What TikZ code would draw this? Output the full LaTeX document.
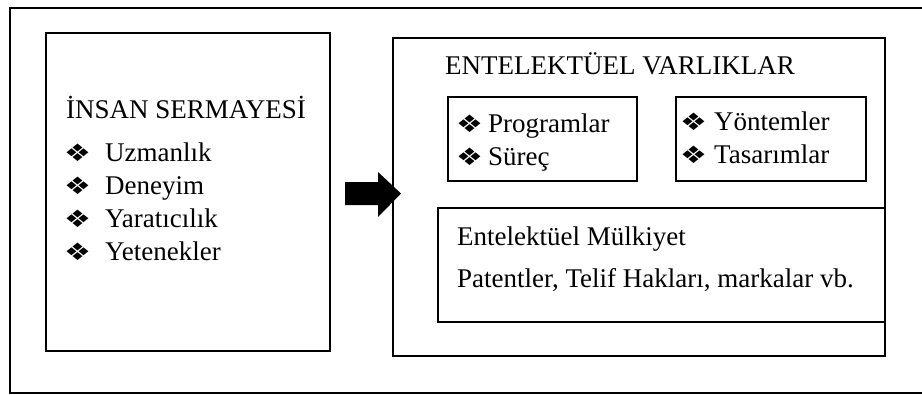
\documentclass[tikz,border=0pt]{standalone}
\usepackage{fontspec}
\setmainfont{Liberation Serif}
\newfontfamily\djv{DejaVu Sans}
\newcommand{\dia}{\scalebox{1.25}[1.0]{\djv\fontsize{24}{24}\selectfont ❖}}
\begin{document}
\begin{tikzpicture}[x=1pt,y=-1pt,
  box/.style={draw=black, line width=2pt, anchor=north west, inner sep=0pt},
  txt/.style={anchor=base west, inner sep=0pt, font=\fontsize{27}{32}\selectfont},
  bul/.style={anchor=base west, inner sep=0pt}]
\useasboundingbox (0,0) rectangle (922,394);
\fill[white] (0,0) rectangle (922,394);
\node[box, minimum width=916pt, minimum height=385pt] (outer) at (9,7) {};
\node[box, minimum width=284pt, minimum height=318pt] (hc) at (45,32) {};
\node[box, minimum width=492pt, minimum height=318pt] (ia) at (392,37) {};
\node[box, minimum width=189pt, minimum height=84pt] (pr) at (447,96) {};
\node[box, minimum width=190pt, minimum height=84pt] (yo) at (675,96) {};
\node[box, minimum width=447pt, minimum height=114pt] (ip) at (437,207) {};
% arrow
\fill[black] (345,182) -- (378,182) -- (378,172) -- (401,193.5) -- (378,217) -- (378,205) -- (345,205) -- cycle;
% left texts
\node[txt] (t1) at (66,118) {İNSAN SERMAYESİ};
\foreach \y/\t [count=\i] in {161/Uzmanlık,194/Deneyim,227/Yaratıcılık,260/Yetenekler}{
  \node[bul] (b\i) at (64,\y) {\dia};
  \node[txt] (l\i) at (105,\y) {\t};
}
\node[txt] (t2) at (445,74) {ENTELEKTÜEL VARLIKLAR};
\node[bul] (pb1) at (456,132) {\dia};
\node[txt] (p1) at (488,132) {Programlar};
\node[bul] (pb2) at (456,165) {\dia};
\node[txt] (p2) at (488,165) {Süreç};
\node[bul] (yb1) at (680,130) {\dia};
\node[txt] (y1) at (714,130) {Yöntemler};
\node[bul] (yb2) at (680,163) {\dia};
\node[txt] (y2) at (714,163) {Tasarımlar};
\node[txt] (m1) at (457,245) {Entelektüel Mülkiyet};
\node[txt] (m2) at (457,287) {Patentler, Telif Hakları, markalar vb.};
\end{tikzpicture}
\end{document}
